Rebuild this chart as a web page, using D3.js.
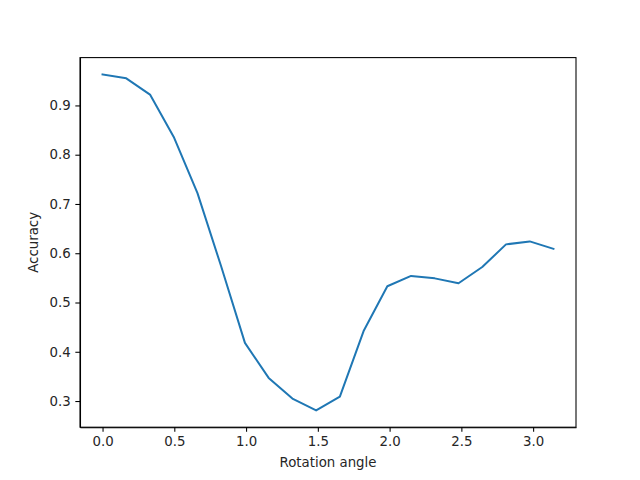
<!DOCTYPE html>
<html>
<head>
<meta charset="utf-8">
<script src="https://cdn.jsdelivr.net/npm/d3@7"></script>
<style>
    body { margin: 0; background: #fff; }
    svg text { font-family: "DejaVu Sans", sans-serif; font-size: 13.33px; fill: #262626; }
    .axis path, .axis line { stroke: #000; stroke-width: 1.07px; }
</style>
</head>
<body>
<div id="chart"></div>
<script>
    // Rotation angles: 20 steps from 0 to pi
    var angleCount = 20;
    var accuracy = [0.963, 0.955, 0.922, 0.836, 0.722, 0.573, 0.418, 0.347, 0.305, 0.281,
                    0.309, 0.442, 0.533, 0.554, 0.549, 0.539, 0.572, 0.618, 0.624, 0.609];
    var xTicks = [0.0, 0.5, 1.0, 1.5, 2.0, 2.5, 3.0];
    var yTicks = [0.3, 0.4, 0.5, 0.6, 0.7, 0.8, 0.9];

    var angles = d3.range(angleCount).map(function (i) { return i * Math.PI / (angleCount - 1); });
    var data = angles.map(function (a, i) { return {valueX: a, valueY: accuracy[i]}; });

    var width = 640, height = 480;
    var margin = {top: 57.6, right: 64, bottom: 52.8, left: 80};
    var chartWidth = width - margin.left - margin.right;
    var chartHeight = height - margin.top - margin.bottom;

    var svg = d3.select('#chart').append('svg')
        .attr('width', width)
        .attr('height', height);

    // matplotlib-like 5% padding on the limits
    var xExt = d3.extent(angles), yExt = d3.extent(accuracy);
    var xPad = (xExt[1] - xExt[0]) * 0.05, yPad = (yExt[1] - yExt[0]) * 0.05;

    var x = d3.scaleLinear()
        .domain([xExt[0] - xPad, xExt[1] + xPad])
        .range([0, chartWidth]);
    var y = d3.scaleLinear()
        .domain([yExt[0] - yPad, yExt[1] + yPad])
        .range([chartHeight, 0]);

    var g = svg.append('g')
        .attr('transform', 'translate(' + margin.left + ',' + margin.top + ')');

    // Line
    var line = d3.line()
        .x(function (d) { return x(d.valueX); })
        .y(function (d) { return y(d.valueY); });

    g.append('path')
        .datum(data)
        .attr('fill', 'none')
        .attr('stroke', '#1f77b4')
        .attr('stroke-width', 2)
        .attr('stroke-linejoin', 'round')
        .attr('stroke-linecap', 'square')
        .attr('d', line);

    // Axes
    g.append('g')
        .attr('class', 'axis axis--x')
        .attr('transform', 'translate(0,' + chartHeight + ')')
        .call(d3.axisBottom(x).tickValues(xTicks).tickFormat(d3.format('.1f'))
            .tickSizeInner(4.67).tickSizeOuter(0).tickPadding(4.67));

    g.append('g')
        .attr('class', 'axis axis--y')
        .call(d3.axisLeft(y).tickValues(yTicks).tickFormat(d3.format('.1f'))
            .tickSizeInner(4.67).tickSizeOuter(0).tickPadding(4.67));

    // Frame
    g.append('rect')
        .attr('width', chartWidth)
        .attr('height', chartHeight)
        .attr('fill', 'none')
        .attr('stroke', '#000')
        .attr('stroke-width', 1.07);

    g.selectAll('.axis text').attr('fill', '#262626').style('font-size', '13.33px')
        .style('font-family', '"DejaVu Sans", sans-serif');

    // Axis titles
    svg.append('text')
        .attr('x', margin.left + chartWidth / 2)
        .attr('y', 466.7)
        .attr('text-anchor', 'middle')
        .text('Rotation angle');

    svg.append('text')
        .attr('transform', 'translate(37.5,' + (margin.top + chartHeight / 2) + ') rotate(-90)')
        .attr('text-anchor', 'middle')
        .text('Accuracy');
</script>
</body>
</html>
